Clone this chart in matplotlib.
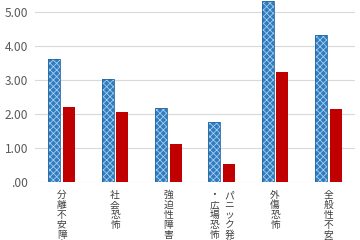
import numpy as np
from matplotlib import pyplot as plt

plt.rcParams['font.family'] = ['Noto Sans CJK JP', 'DejaVu Sans']
plt.rcParams['hatch.linewidth'] = 0.6

# data
categories = ["分離不安障害", "社会恐怖", "強迫性障害", "パニック発作・広場恐怖", "外傷恐怖", "全般性不安障害"]
label_columns = [["分離不安障害"], ["社会恐怖"], ["強迫性障害"], ["パニック発作", "・広場恐怖"], ["外傷恐怖"], ["全般性不安障害"]]
series_a = [3.61, 3.03, 2.17, 1.77, 5.31, 4.33]
series_b = [2.20, 2.05, 1.12, 0.53, 3.24, 2.15]
yticks = [0, 1, 2, 3, 4, 5]
ytick_labels = [".00", "1.00", "2.00", "3.00", "4.00", "5.00"]

blue = '#2F7DC1'
red = '#C00000'
grid = '#D9D9D9'
text_col = '#595959'

fig = plt.figure(figsize=(3.6, 2.4), dpi=100)
ax = fig.add_axes([35/360, 1 - 182/240, 320/360, 182/240])

x = np.arange(len(categories))
w = 0.225
off = 0.14

# checker-ish blue bars
ax.bar(x - off, series_a, w, color=blue, edgecolor='#A8CCEC', hatch='xxxxx', linewidth=0, zorder=3)
ax.bar(x - off, series_a, w, facecolor='none', edgecolor='#2466A3', linewidth=0.6, zorder=4)
ax.bar(x + off, series_b, w, color=red, linewidth=0, zorder=3)

ax.set_xlim(-0.5, len(categories) - 0.5)
ax.set_ylim(0, 5.35)
ax.set_yticks(yticks)
ax.set_yticklabels(ytick_labels)
ax.yaxis.grid(True, color=grid, linewidth=0.8, zorder=0)
ax.set_xticks([])
ax.tick_params(axis='y', length=0, pad=5, labelsize=8.6, labelcolor=text_col)
for s in ax.spines.values():
    s.set_visible(False)

# vertical japanese labels
for i, cols in enumerate(label_columns):
    n = len(cols)
    for j, col in enumerate(cols):
        dx = (n - 1) / 2 * 0.28 - j * 0.28
        ax.text(i + dx, -0.045, "\n".join(col), transform=ax.get_xaxis_transform(),
                ha='center', va='top', fontsize=7, color='#404040', linespacing=0.98)

fig.savefig('out.png', dpi=100)
